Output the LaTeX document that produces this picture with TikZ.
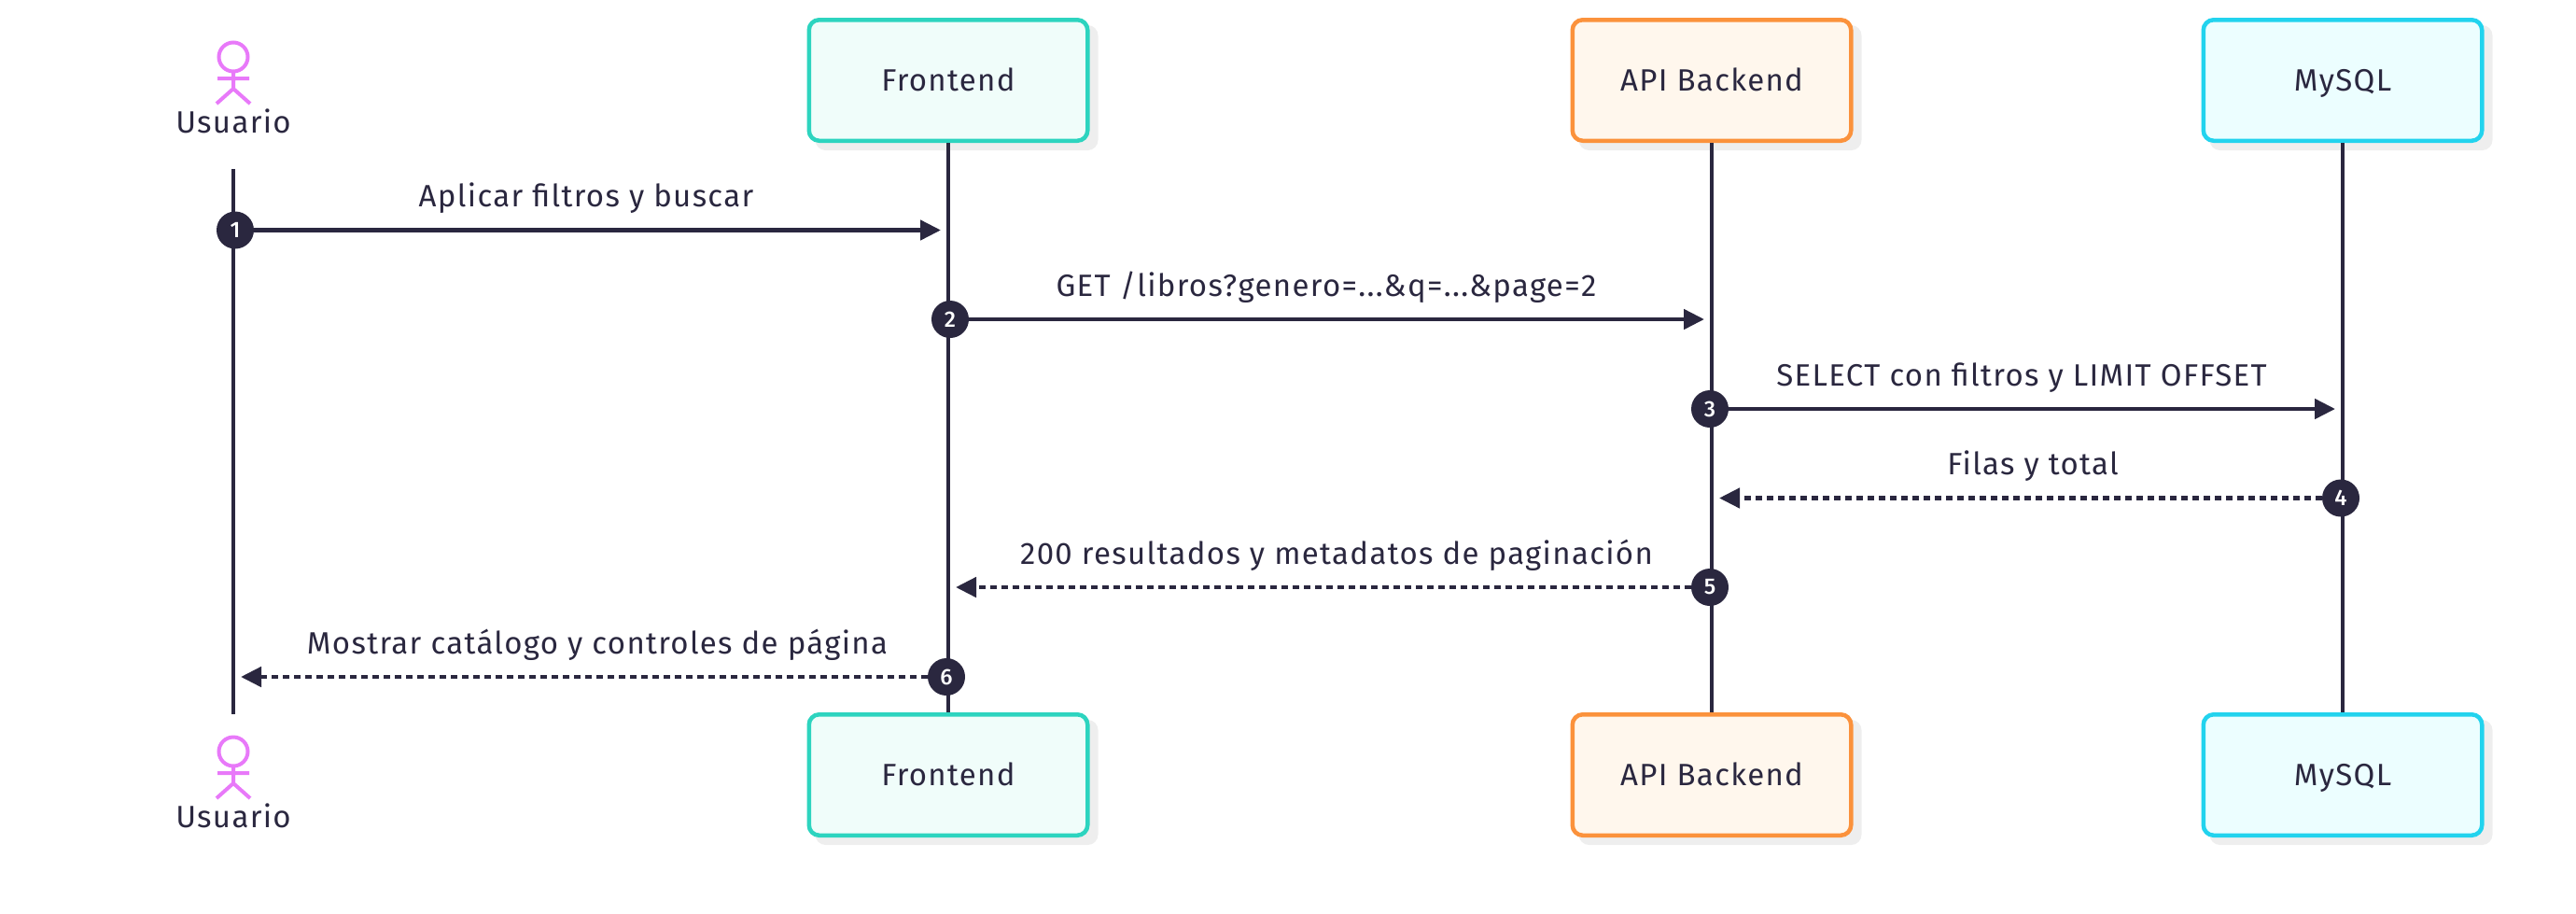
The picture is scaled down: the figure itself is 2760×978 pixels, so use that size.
\documentclass[tikz,border=0pt]{standalone}
\usepackage{fontspec}
\setmainfont{Fira Sans}
\newfontfamily\labfont[LetterSpace=4]{Fira Sans}
\newfontfamily\digitfont{Fira Sans Medium}
\usetikzlibrary{arrows.meta}
\definecolor{ink}{HTML}{2A273F}
\definecolor{shadowc}{HTML}{EEEEEE}
\definecolor{actorc}{HTML}{E879F9}
\definecolor{frontS}{HTML}{2DD4BF}
\definecolor{frontF}{HTML}{F0FDFA}
\definecolor{backS}{HTML}{FB923C}
\definecolor{backF}{HTML}{FFF7ED}
\definecolor{sqlS}{HTML}{22D3EE}
\definecolor{sqlF}{HTML}{ECFEFF}
\tikzset{
  x=1pt,y=-1pt,
  lab/.style={font=\labfont\fontsize{33}{36}\selectfont,text=ink,inner sep=0pt,anchor=base},
  lifeline/.style={draw=ink,line width=4pt},
  msg/.style={draw=ink,line width=4.6pt,-{Triangle[length=22pt,width=21pt]}},
  ret/.style={msg,dash pattern=on 7pt off 5pt},
  badge/.style={circle,fill=ink,minimum size=40pt,inner sep=0pt,text=white,font=\digitfont\fontsize{24}{26}\selectfont},
  box/.style={rounded corners=11pt,line width=4.5pt,minimum width=298.5pt,minimum height=129.5pt,inner sep=0pt},
  shadowbox/.style={rounded corners=11pt,fill=shadowc,minimum width=303pt,minimum height=134pt,inner sep=0pt},
  frontbox/.style={box,draw=frontS,fill=frontF},
  backbox/.style={box,draw=backS,fill=backF},
  sqlbox/.style={box,draw=sqlS,fill=sqlF},
  stick/.style={draw=actorc,line width=4pt},
}
\newcommand{\stickman}[1]{%
  \begin{scope}[yshift=-#1pt]
    \draw[stick] (250,61) circle[radius=15.5];
    \draw[stick] (250,77) -- (250,95) (233,84) -- (267,84) (250,95) -- (232,111) (250,95) -- (268,111);
  \end{scope}}
\begin{document}
\begin{tikzpicture}
\useasboundingbox (0,0) rectangle (2760,978);
% shadows
\foreach \cx in {1025,1843,2519} {
  \node[shadowbox] at (\cx,94) {};
  \node[shadowbox] at (\cx,838) {};
}
\coordinate (uT) at (250,181);
\coordinate (uB) at (250,765);
\node[frontbox] (fT) at (1016,86) {};
\node[frontbox] (fB) at (1016,830) {};
\node[backbox] (bT) at (1834,86) {};
\node[backbox] (bB) at (1834,830) {};
\node[sqlbox] (sT) at (2510,86) {};
\node[sqlbox] (sB) at (2510,830) {};
\node[lab] (fTl) at (1016,97) {Frontend};
\node[lab] (fBl) at (1016,841) {Frontend};
\node[lab] (bTl) at (1834,97) {API Backend};
\node[lab] (bBl) at (1834,841) {API Backend};
\node[lab] (sTl) at (2510,97) {MySQL};
\node[lab] (sBl) at (2510,841) {MySQL};
\draw[lifeline] (uT) -- (uB);
\draw[lifeline] (fT.south) -- (fB.north);
\draw[lifeline] (bT.south) -- (bB.north);
\draw[lifeline] (sT.south) -- (sB.north);
% actors
\stickman{0}
\stickman{744}
\node[lab] (uTl) at (250,142) {Usuario};
\node[lab] (uBl) at (250,886) {Usuario};
% badges
\node[badge] (n1) at (252,246.5) {1};
\node[badge] (n2) at (1018,342) {2};
\node[badge] (n3) at (1832,438) {3};
\node[badge] (n4) at (2508,533.5) {4};
\node[badge] (n5) at (1832,629) {5};
\node[badge] (n6) at (1014,725) {6};
% free ends
\coordinate (t1) at (1008,246.5);
\coordinate (t2) at (1826,342);
\coordinate (t3) at (2502,438);
\coordinate (t4) at (1842,533.5);
\coordinate (t5) at (1024,629);
\coordinate (t6) at (258,725);
\draw[msg] (n1) -- (t1);
\draw[msg] (n2) -- (t2);
\draw[msg] (n3) -- (t3);
\draw[ret] (n4) -- (t4);
\draw[ret] (n5) -- (t5);
\draw[ret] (n6) -- (t6);
% labels
\node[lab] (m1) at (628,221.5) {Aplicar filtros y buscar};
\node[lab] (m2) at (1421,317) {GET /libros?genero=...\&q=...\&page=2};
\node[lab] (m3) at (2166,413) {SELECT con filtros y LIMIT OFFSET};
\node[lab] (m4) at (2178,508.5) {Filas y total};
\node[lab] (m5) at (1432,604) {200 resultados y metadatos de paginación};
\node[lab] (m6) at (640,700) {Mostrar catálogo y controles de página};
\end{tikzpicture}
\end{document}
